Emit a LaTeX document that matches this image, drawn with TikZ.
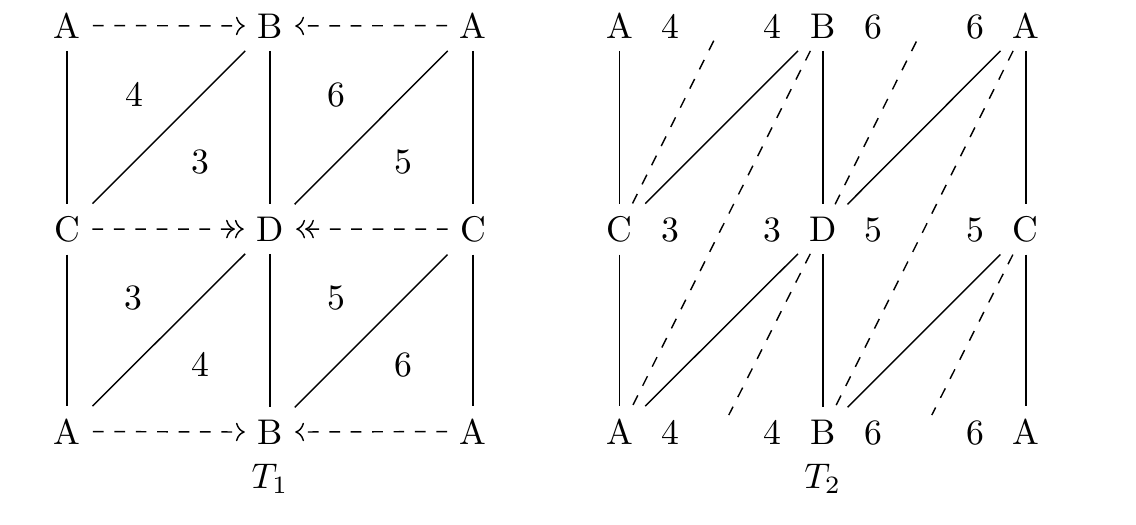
\documentclass[tikz,border=0pt]{standalone}
\usetikzlibrary{arrows.meta,cd}
\begin{document}
\begin{tikzpicture}[
  v/.style={anchor=base, inner sep=.3333em},
  lbl/.style={anchor=base, inner sep=0pt},
  ln/.style={line width=0.4pt},
  dsh/.style={dashed, line width=0.4pt},
  onehead/.style={-{tikzcd to[]}},
  twohead/.style={-{tikzcd to[]tikzcd to[]}},
]
\useasboundingbox (0,0) rectangle (11.192,-5.163);
% ---------- T1 ----------
\node[v] (p11) at (0.660,-0.377) {A};
\node[v] (p12) at (2.660,-0.377) {B};
\node[v] (p13) at (4.660,-0.377) {A};
\node[v] (p21) at (0.660,-2.377) {C};
\node[v] (p22) at (2.660,-2.377) {D};
\node[v] (p23) at (4.660,-2.377) {C};
\node[v] (p31) at (0.660,-4.377) {A};
\node[v] (p32) at (2.660,-4.377) {B};
\node[v] (p33) at (4.660,-4.377) {A};
\node[lbl] (l1a) at (1.320,-1.051) {4};
\node[lbl] (l1b) at (1.975,-1.707) {3};
\node[lbl] (l1c) at (3.317,-1.051) {6};
\node[lbl] (l1d) at (3.974,-1.707) {5};
\node[lbl] (l1e) at (1.315,-3.051) {3};
\node[lbl] (l1f) at (1.977,-3.707) {4};
\node[lbl] (l1g) at (3.316,-3.051) {5};
\node[lbl] (l1h) at (3.974,-3.707) {6};
\node[lbl] (t1) at (2.660,-4.808) {$T_1$};
\draw[ln] (p11) -- (p21);
\draw[ln] (p21) -- (p31);
\draw[ln] (p12) -- (p22);
\draw[ln] (p22) -- (p32);
\draw[ln] (p13) -- (p23);
\draw[ln] (p23) -- (p33);
\draw[ln] (p21) -- (p12);
\draw[ln] (p22) -- (p13);
\draw[ln] (p31) -- (p22);
\draw[ln] (p32) -- (p23);
\draw[dsh,onehead] (p11) -- (p12);
\draw[dsh,onehead] (p13) -- (p12);
\draw[dsh,twohead] (p21) -- (p22);
\draw[dsh,twohead] (p23) -- (p22);
\draw[dsh,onehead] (p31) -- (p32);
\draw[dsh,onehead] (p33) -- (p32);
% ---------- T2 ----------
\node[v] (q11) at (6.106,-0.377) {A};
\node[lbl] (q12) at (6.606,-0.377) {4};
\node[lbl] (q14) at (7.606,-0.377) {4};
\node[v] (q15) at (8.106,-0.377) {B};
\node[lbl] (q16) at (8.606,-0.377) {6};
\node[lbl] (q18) at (9.606,-0.377) {6};
\node[v] (q19) at (10.106,-0.377) {A};
\node[v] (q21) at (6.106,-2.377) {C};
\node[lbl] (q22) at (6.606,-2.377) {3};
\node[lbl] (q24) at (7.606,-2.377) {3};
\node[v] (q25) at (8.106,-2.377) {D};
\node[lbl] (q26) at (8.606,-2.377) {5};
\node[lbl] (q28) at (9.606,-2.377) {5};
\node[v] (q29) at (10.106,-2.377) {C};
\node[v] (q31) at (6.106,-4.377) {A};
\node[lbl] (q32) at (6.606,-4.377) {4};
\node[lbl] (q34) at (7.606,-4.377) {4};
\node[v] (q35) at (8.106,-4.377) {B};
\node[lbl] (q36) at (8.606,-4.377) {6};
\node[lbl] (q38) at (9.606,-4.377) {6};
\node[v] (q39) at (10.106,-4.377) {A};
\node[lbl] (t2) at (8.106,-4.808) {$T_2$};
\coordinate (e13) at (7.050,-0.365);
\coordinate (e17) at (9.050,-0.365);
\coordinate (e33) at (7.180,-4.089);
\coordinate (e37) at (9.180,-4.089);
\draw[ln] (q11) -- (q21);
\draw[ln] (q21) -- (q31);
\draw[ln] (q15) -- (q25);
\draw[ln] (q25) -- (q35);
\draw[ln] (q19) -- (q29);
\draw[ln] (q29) -- (q39);
\draw[ln] (q21) -- (q15);
\draw[ln] (q25) -- (q19);
\draw[ln] (q31) -- (q25);
\draw[ln] (q35) -- (q29);
\draw[dsh] (q21) -- (e13);
\draw[dsh] (q25) -- (e17);
\draw[dsh] (q25) -- (e33);
\draw[dsh] (q29) -- (e37);
\draw[dsh] (q15) -- (q31);
\draw[dsh] (q19) -- (q35);
\end{tikzpicture}
\end{document}
